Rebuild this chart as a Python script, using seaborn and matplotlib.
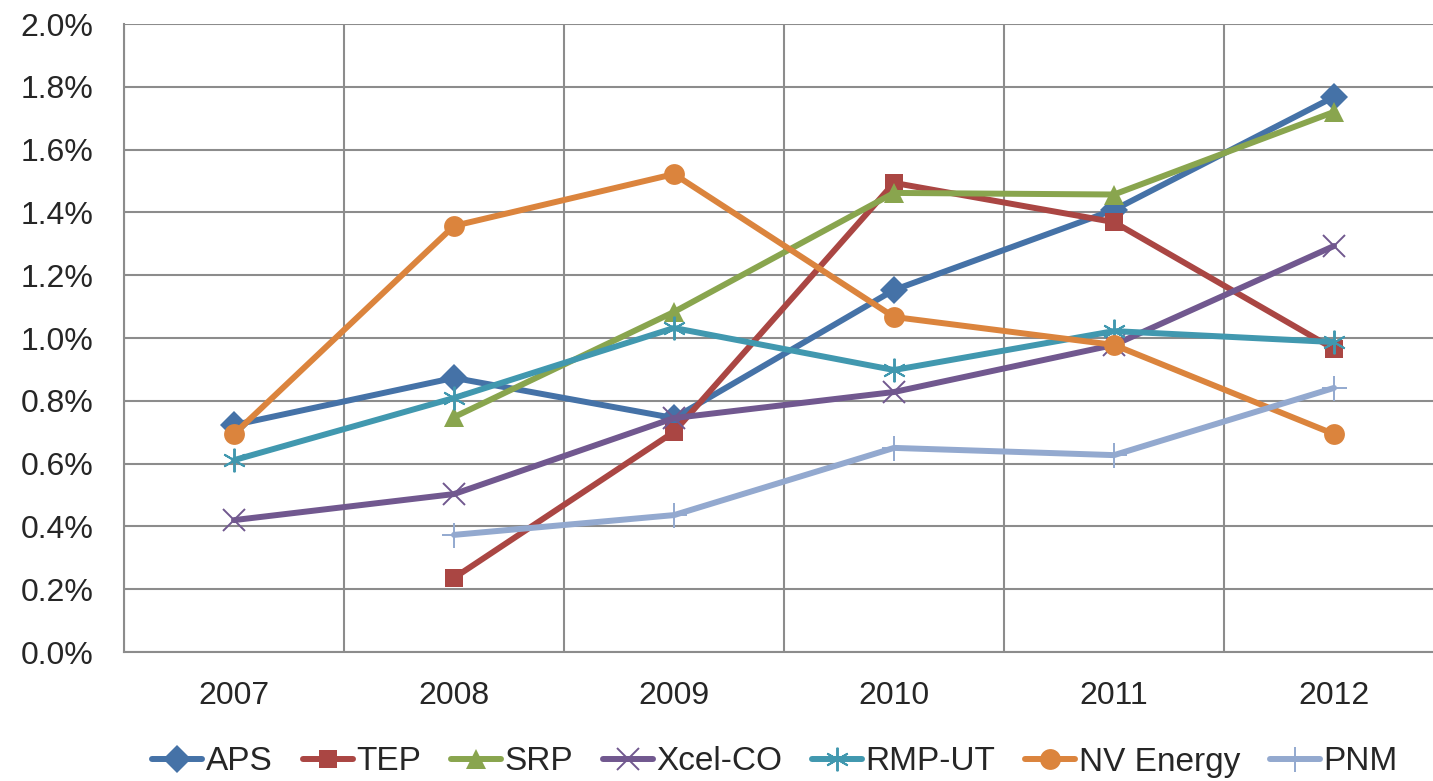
import numpy as np
import pandas as pd
import matplotlib
matplotlib.use("Agg")
import matplotlib.pyplot as plt
import seaborn as sns
from matplotlib.ticker import FuncFormatter, FixedLocator

years = ["2007", "2008", "2009", "2010", "2011", "2012"]
aps = [0.723, 0.873, 0.745, 1.153, 1.408, 1.768]
tep = [np.nan, 0.236, 0.701, 1.494, 1.369, 0.965]
srp = [np.nan, 0.748, 1.083, 1.462, 1.457, 1.720]
xcel = [0.420, 0.503, 0.745, 0.828, 0.978, 1.293]
rmp = [0.611, 0.809, 1.032, 0.898, 1.022, 0.987]
nv = [0.694, 1.357, 1.522, 1.067, 0.978, 0.694]
pnm = [np.nan, 0.373, 0.436, 0.650, 0.627, 0.841]

series = {"APS": aps, "TEP": tep, "SRP": srp, "Xcel-CO": xcel,
          "RMP-UT": rmp, "NV Energy": nv, "PNM": pnm}
colors = {"APS": "#4572A7", "TEP": "#AA4643", "SRP": "#89A54E", "Xcel-CO": "#71588F",
          "RMP-UT": "#4198AF", "NV Energy": "#DB843D", "PNM": "#93A9CF"}
markers = {"APS": "D", "TEP": "s", "SRP": "^", "Xcel-CO": "x",
           "RMP-UT": (6, 2, 0), "NV Energy": "o", "PNM": "+"}
msizes = {"APS": 14, "TEP": 13, "SRP": 15, "Xcel-CO": 16,
          "RMP-UT": 17, "NV Energy": 15, "PNM": 18}

rows = []
for name, vals in series.items():
    for i, v in enumerate(vals):
        rows.append({"x": i, "value": v, "series": name})
df = pd.DataFrame(rows)

sns.set_style("white")
plt.rcParams['font.family'] = ['Liberation Sans', 'DejaVu Sans']

fig = plt.figure(figsize=(14.33, 7.81), dpi=100)
ax = fig.add_axes([124 / 1433, 1 - 652 / 781, 1320 / 1433, 628 / 781])

for name in series:
    sub = df[df["series"] == name].dropna()
    thin = name in ("Xcel-CO", "RMP-UT", "PNM")
    sns.lineplot(data=sub, x="x", y="value", ax=ax, color=colors[name],
                 linewidth=4.3, marker=markers[name], markersize=msizes[name],
                 markeredgewidth=1.4 if thin else 0,
                 markeredgecolor=colors[name], label=name, zorder=3)

ax.set_xlim(-0.5, 5.5)
ax.set_ylim(0, 2.0)
ax.set_yticks(np.arange(0, 2.01, 0.2))
ax.yaxis.set_major_formatter(FuncFormatter(lambda v, p: f"{v:.1f}%"))
ax.set_xticks(range(len(years)))
ax.set_xticklabels(years)
ax.xaxis.set_minor_locator(FixedLocator(np.arange(-0.5, 5.6, 1.0)))

ax.grid(True, axis="y", which="major", color="#8c8c8c", linewidth=1.5, zorder=0)
ax.grid(True, axis="x", which="minor", color="#8c8c8c", linewidth=1.5, zorder=0)
ax.tick_params(axis="x", which="major", length=0, pad=21, labelsize=23)
ax.tick_params(axis="x", which="minor", length=10, width=1.5, color="#8c8c8c")
ax.tick_params(axis="y", length=12, width=1.5, color="#8c8c8c", pad=10, labelsize=23)
for s in ["top", "right"]:
    ax.spines[s].set_visible(False)
for s in ["left", "bottom"]:
    ax.spines[s].set_color("#8c8c8c")
    ax.spines[s].set_linewidth(1.5)
ax.set_xlabel("")
ax.set_ylabel("")

handles, labels = ax.get_legend_handles_labels()
ax.get_legend().remove()
fig.legend(handles, labels, loc="center", bbox_to_anchor=(775 / 1433, 1 - 762 / 781),
           ncol=7, frameon=False, handlelength=1.5, handletextpad=0.1,
           columnspacing=0.9, fontsize=24)

fig.savefig("out.png", dpi=100)
